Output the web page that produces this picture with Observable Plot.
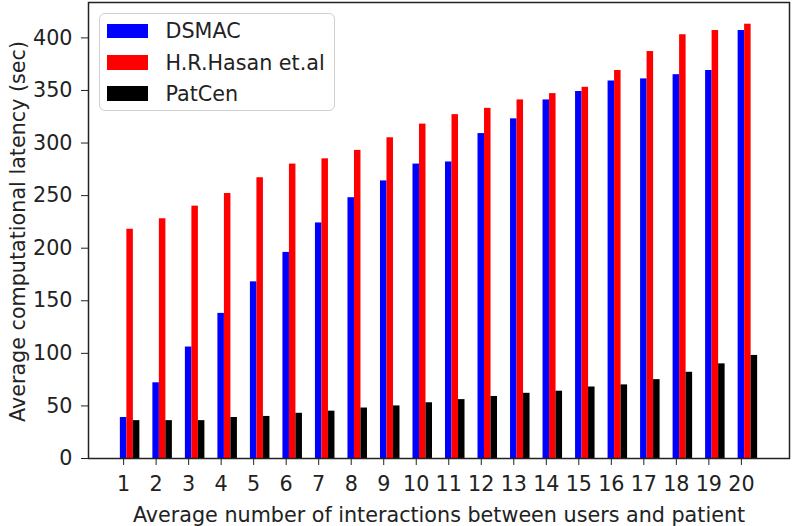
<!DOCTYPE html>
<html>
<head>
<meta charset="utf-8">
<script src="https://cdn.jsdelivr.net/npm/d3@7"></script>
<script src="https://cdn.jsdelivr.net/npm/@observablehq/plot@0.6"></script>
<style>
  html, body { margin: 0; padding: 0; background: white; }
  #wrap { position: relative; width: 792px; height: 526px; font-family: "DejaVu Sans", sans-serif; }
  #legend { position: absolute; left: 98.5px; top: 13px; width: 234px; height: 96px;
    border: 1.5px solid #d0d0d0; border-radius: 6px; background: rgba(255,255,255,0.85); box-sizing: content-box; }
  .sw { position: absolute; left: 7px; width: 41.5px; height: 14.5px; }
  .lab { position: absolute; left: 66px; font-size: 20.7px; color: #222; white-space: nowrap; line-height: 1; }
</style>
</head>
<body>
<div id="wrap"></div>
<script>
const groups = [1,2,3,4,5,6,7,8,9,10,11,12,13,14,15,16,17,18,19,20];
const seriesNames = ["DSMAC", "H.R.Hasan et.al", "PatCen"];
const seriesColors = ["#0000ff", "#ff0000", "#000000"];
const dsmac  = [39, 72, 106, 138, 168, 196, 224, 248, 264, 280, 282, 309, 323, 341, 349, 359, 361, 365, 369, 407];
const hasan  = [218, 228, 240, 252, 267, 280, 285, 293, 305, 318, 327, 333, 341, 347, 353, 369, 387, 403, 407, 413];
const patcen = [36, 36, 36, 39, 40, 43, 45, 48, 50, 53, 56, 59, 62, 64, 68, 70, 75, 82, 90, 98];
const yTicks = [0, 50, 100, 150, 200, 250, 300, 350, 400];
const xLabel = "Average number of interactions between users and patient";
const yLabel = "Average computational latency (sec)";

const seriesValues = [dsmac, hasan, patcen];
const barW = 0.2;
const FS = 20.7;

const barMarks = seriesValues.map((vals, k) => {
  const rows = groups.map((g, i) => ({g, v: vals[i]}));
  return Plot.rectY(rows, {
    x1: d => d.g - barW / 2 + k * barW,
    x2: d => d.g + barW / 2 + k * barW,
    y: "v",
    fill: seriesColors[k]
  });
});

const chart = Plot.plot({
  width: 792,
  height: 526,
  marginLeft: 88,
  marginRight: 3,
  marginTop: 2,
  marginBottom: 68,
  style: {fontFamily: "DejaVu Sans", fontSize: FS + "px", color: "#222", background: "white", overflow: "visible"},
  x: {domain: [-0.08, 21.48]},
  y: {domain: [0, 433.65]},
  marks: [
    ...barMarks,
    Plot.frame({stroke: "#222", strokeWidth: 1.5}),
    Plot.axisX({ticks: groups, tickSize: 7, tickPadding: 11, tickFormat: d => String(d), label: null, fontSize: FS}),
    Plot.axisY({ticks: yTicks, tickSize: 7, tickPadding: 9, tickFormat: d => String(d), label: null, fontSize: FS}),
    Plot.text([xLabel], {text: d => d, frameAnchor: "bottom", dy: 63, lineAnchor: "bottom", fontSize: FS}),
    Plot.text([yLabel], {text: d => d, frameAnchor: "left", dx: -64, dy: 1, rotate: -90, lineAnchor: "bottom", textAnchor: "middle", fontSize: FS})
  ]
});

const wrap = document.getElementById("wrap");
wrap.appendChild(chart);

const legend = document.createElement("div");
legend.id = "legend";
const rowTops = [9.5, 41, 72];
seriesNames.forEach((name, k) => {
  const sw = document.createElement("div");
  sw.className = "sw";
  sw.style.top = rowTops[k] + "px";
  sw.style.background = seriesColors[k];
  legend.appendChild(sw);
  const lab = document.createElement("div");
  lab.className = "lab";
  lab.style.top = (rowTops[k] - 2.5) + "px";
  lab.textContent = name;
  legend.appendChild(lab);
});
wrap.appendChild(legend);
</script>
</body>
</html>
